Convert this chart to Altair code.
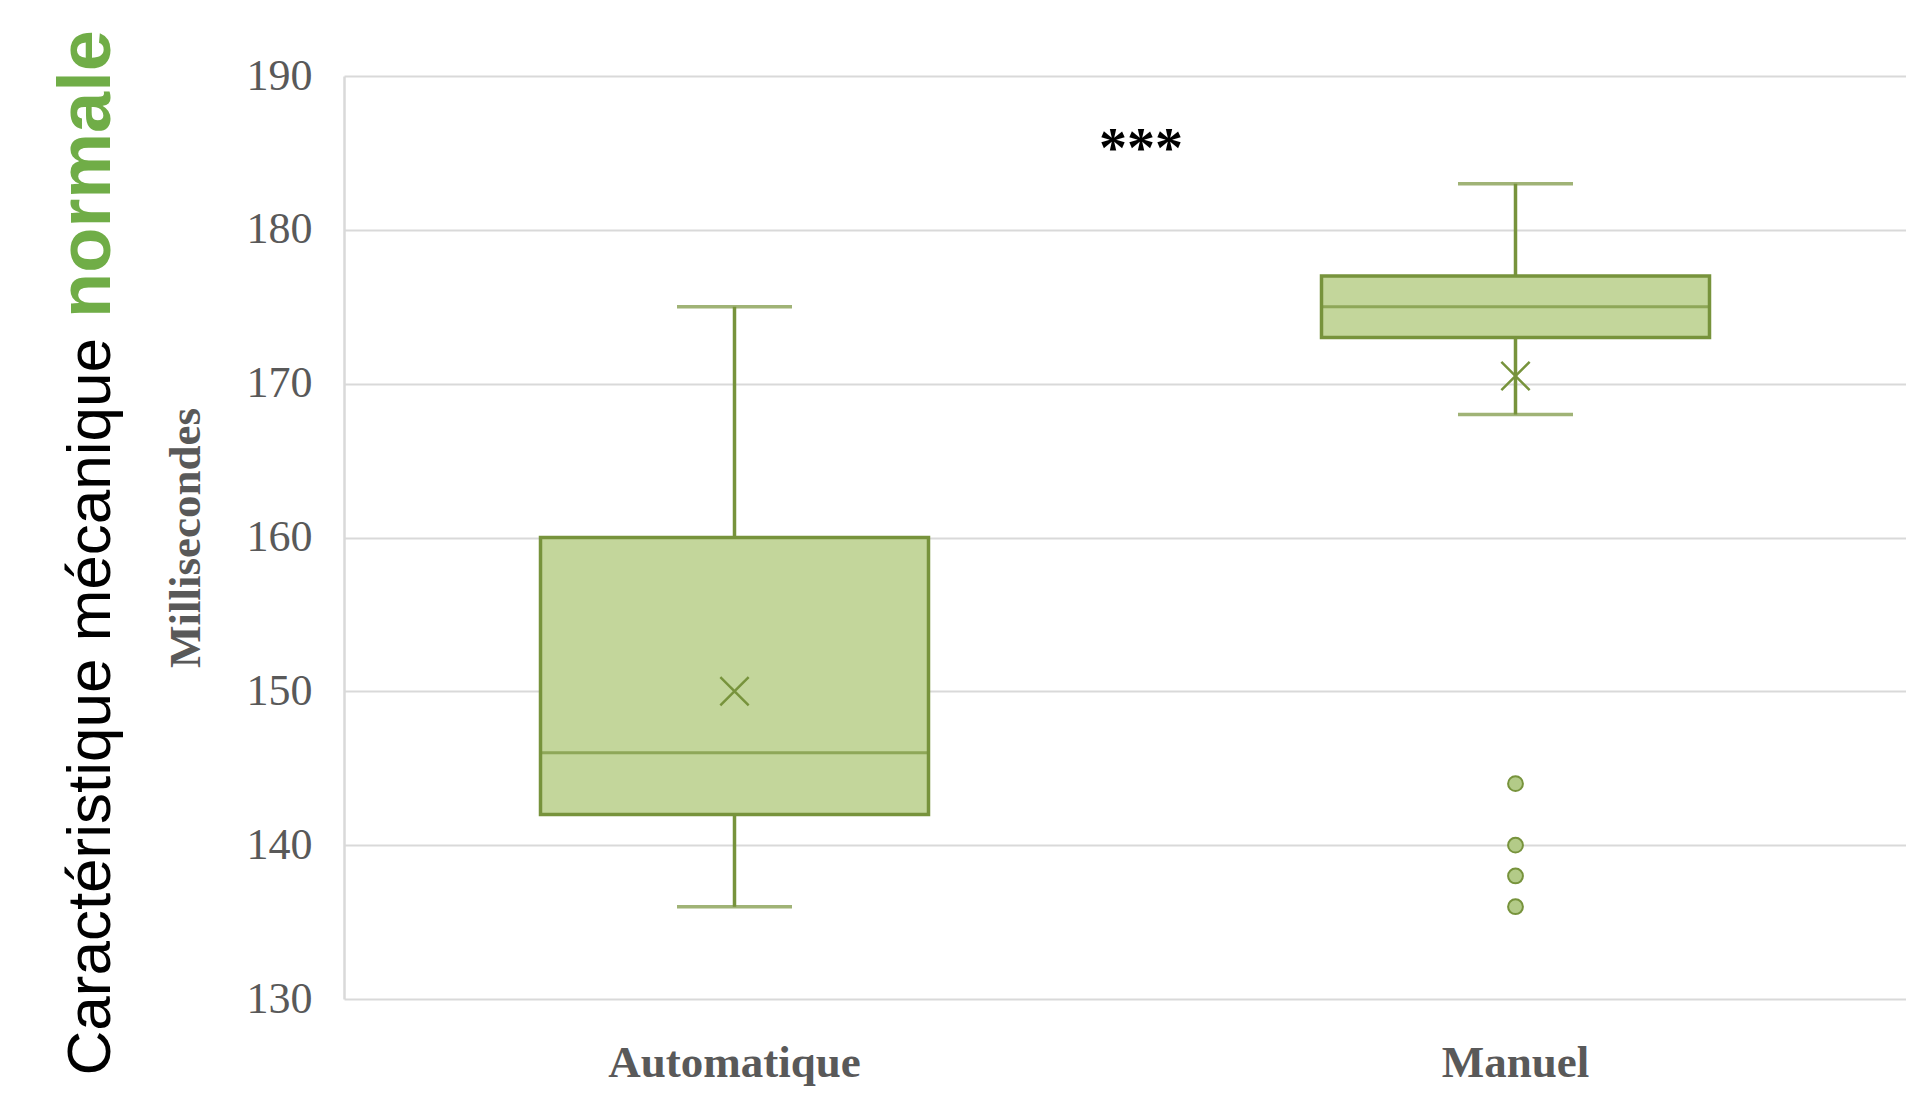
import altair as alt
import pandas as pd

# ---- data ----
categories = ["Automatique", "Manuel"]
lower_whisker = [136, 168]
q1 = [142, 173]
median = [146, 175]
q3 = [160, 177]
upper_whisker = [175, 183]
mean = [150, 170.5]

outlier_groups = ["Manuel", "Manuel", "Manuel", "Manuel"]
outlier_values = [144, 140, 138, 136]

y_ticks = [130, 140, 150, 160, 170, 180, 190]
signif_label = ["***"]
signif_value = [186]

title_regular = ["Caractéristique mécanique"]
title_bold = ["normale"]

# ---- styling ----
DARK = "#77933C"
LIGHT = "#C3D69B"
GRID = "#D9D9D9"
TXT = "#595959"

stats = pd.DataFrame({
    "groupe": categories,
    "bas": lower_whisker,
    "q1": q1,
    "mediane": median,
    "q3": q3,
    "haut": upper_whisker,
    "moyenne": mean,
})
outliers = pd.DataFrame({"groupe": outlier_groups, "valeur": outlier_values})
stars = pd.DataFrame({"t": signif_label, "v": signif_value})
t_reg = pd.DataFrame({"t": title_regular})
t_bold = pd.DataFrame({"t": title_bold})

x_scale = alt.Scale(domain=categories, paddingInner=0, paddingOuter=0)
x_axis = alt.Axis(
    title=None, labelFont="Liberation Serif", labelFontSize=45,
    labelFontWeight="bold", labelColor=TXT, labelAngle=0, labelPadding=41,
    labelLimit=0, ticks=False, domain=False, grid=False,
)
y_scale = alt.Scale(domain=[130, 190], nice=False, zero=False)
y_axis = alt.Axis(
    values=y_ticks, title="Millisecondes",
    labelFont="Liberation Serif", labelFontSize=44, labelColor=TXT,
    labelPadding=32, ticks=False,
    domainColor=GRID, domainWidth=2.5, gridColor=GRID, gridWidth=2,
    titleFont="Liberation Serif", titleFontSize=45, titleFontWeight="bold",
    titleColor=TXT, titleAngle=270, titleX=-145, titleY=461.5,
    titleAlign="center", titleBaseline="alphabetic",
)

def X():
    return alt.X("groupe:N", scale=x_scale, axis=x_axis)

def Y(field):
    return alt.Y(field, type="quantitative", scale=y_scale, axis=y_axis)

base = alt.Chart(stats)

whisker = base.mark_rule(color=DARK, strokeWidth=3.5).encode(
    x=X(), y=Y("bas"), y2="haut:Q")
box = base.mark_bar(size=388, fill=LIGHT, stroke=DARK, strokeWidth=3.5).encode(
    x=X(), y=Y("q1"), y2="q3:Q")
med = base.mark_tick(size=386, thickness=3, color=DARK).encode(
    x=X(), y=Y("mediane"))
cap_low = base.mark_tick(size=115, thickness=3.5, color=DARK).encode(
    x=X(), y=Y("bas"))
cap_high = base.mark_tick(size=115, thickness=3.5, color=DARK).encode(
    x=X(), y=Y("haut"))
mean_pt = base.mark_point(
    shape="M-1,-1L1,1M-1,1L1,-1", filled=False, size=800,
    strokeWidth=2.5, color=DARK, opacity=1).encode(x=X(), y=Y("moyenne"))
out_pts = alt.Chart(outliers).mark_point(
    shape="circle", filled=True, fill="#B3CB88", stroke=DARK,
    strokeWidth=2, size=220, opacity=1).encode(x=X(), y=Y("valeur"))

star_txt = alt.Chart(stars).mark_text(
    font="Liberation Serif", fontWeight="bold", fontSize=56, color="black",
    baseline="alphabetic", dy=29).encode(
    x=alt.value(797), y=Y("v"), text="t:N")

title_b = alt.Chart(t_bold).mark_text(
    font="Liberation Sans", fontWeight="bold", fontSize=74, color="#70AD47",
    angle=270, align="right", baseline="alphabetic").encode(
    x=alt.value(-234), y=alt.value(-46), text="t:N")
title_r = alt.Chart(t_reg).mark_text(
    font="Liberation Sans", fontSize=62, color="black",
    angle=270, align="right", baseline="alphabetic").encode(
    x=alt.value(-234), y=alt.value(262), text="t:N")

chart = alt.layer(
    whisker, box, med, cap_low, cap_high, mean_pt, out_pts, star_txt,
    title_b, title_r,
).properties(
    width=1562, height=923,
    padding={"left": 336, "top": 68, "right": 0, "bottom": 88},
    autosize=alt.AutoSizeParams(type="none"),
    background="white",
).configure_view(stroke=None)

chart.save("out.html", embed_options={"renderer": "svg", "actions": False})
